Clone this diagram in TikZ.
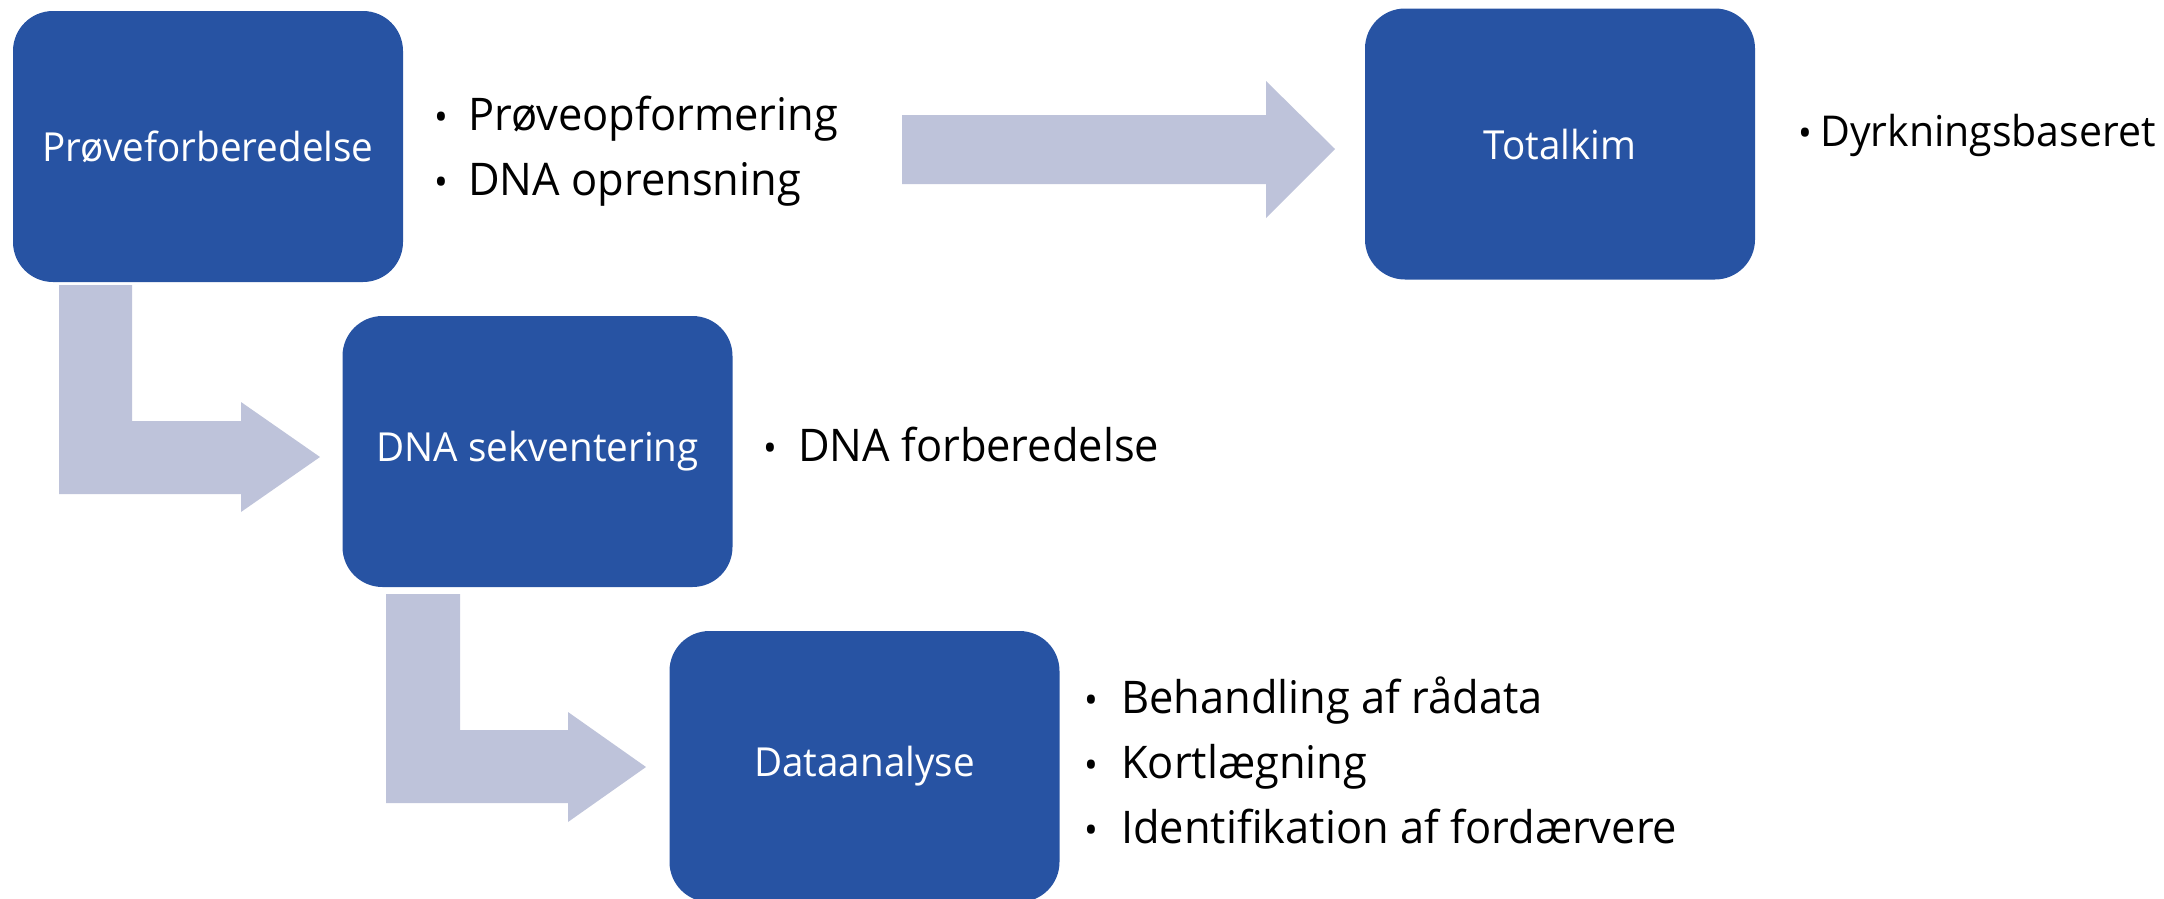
\documentclass[tikz,border=0pt]{standalone}
\usepackage{fontspec}
\setmainfont[FakeStretch=0.965]{Open Sans}
\definecolor{boxblue}{RGB}{39,83,163}
\definecolor{arrowgray}{RGB}{190,195,218}
\tikzset{
  stepbox/.style={rectangle, rounded corners=40pt, fill=boxblue, text=white,
    minimum width=390pt, minimum height=271pt, inner sep=0pt,
    font=\fontsize{40}{48}\selectfont},
  item/.style={anchor=base west, inner sep=0pt, font=\fontsize{45}{54}\selectfont},
  bul/.style={anchor=base, inner sep=0pt, font=\fontsize{38}{44}\selectfont},
  blockarrow/.style={fill=arrowgray, draw=none}
}
\begin{document}
\begin{tikzpicture}[x=1pt,y=-1pt]
\useasboundingbox (0,0) rectangle (2164,898);
\clip (0,0) rectangle (2164,898);
% boxes
\node[stepbox] (b1) at (208,146.5) {Prøveforberedelse};
\node[stepbox] (bt) at (1560,144) {Totalkim};
\node[stepbox] (b2) at (537.5,451.5) {DNA sekventering};
\node[stepbox] (b3) at (864.5,766.5) {Dataanalyse};
% block arrows
\fill[blockarrow] (902,115) -- (1266,115) -- (1266,81) -- (1335,149) -- (1266,218) -- (1266,184) -- (902,184) -- cycle;
\fill[blockarrow] (59,285) -- (132,285) -- (132,421) -- (241,421) -- (241,402) -- (320,457) -- (241,512) -- (241,494) -- (59,494) -- cycle;
\fill[blockarrow] (386,594) -- (460,594) -- (460,730) -- (568,730) -- (568,712) -- (646,767) -- (568,822) -- (568,803) -- (386,803) -- cycle;
% lists
\node[bul] (p1b) at (441,130) {•};
\node[item] (p1) at (468,130) {Prøveopformering};
\node[bul] (p2b) at (441,195) {•};
\node[item] (p2) at (468,195) {DNA oprensning};
\node[bul] (tb) at (1805,146) {•};
\node[item, font=\fontsize{42.5}{50}\selectfont] (t1) at (1820,146) {Dyrkningsbaseret};
\node[bul] (sb) at (770,461) {•};
\node[item] (s1) at (798,461) {DNA forberedelse};
\node[bul] (d1b) at (1091,713) {•};
\node[item] (d1) at (1121,713) {Behandling af rådata};
\node[bul] (d2b) at (1091,778) {•};
\node[item] (d2) at (1121,778) {Kortlægning};
\node[bul] (d3b) at (1091,843) {•};
\node[item] (d3) at (1121,843) {Identifikation af fordærvere};
\end{tikzpicture}
\end{document}
